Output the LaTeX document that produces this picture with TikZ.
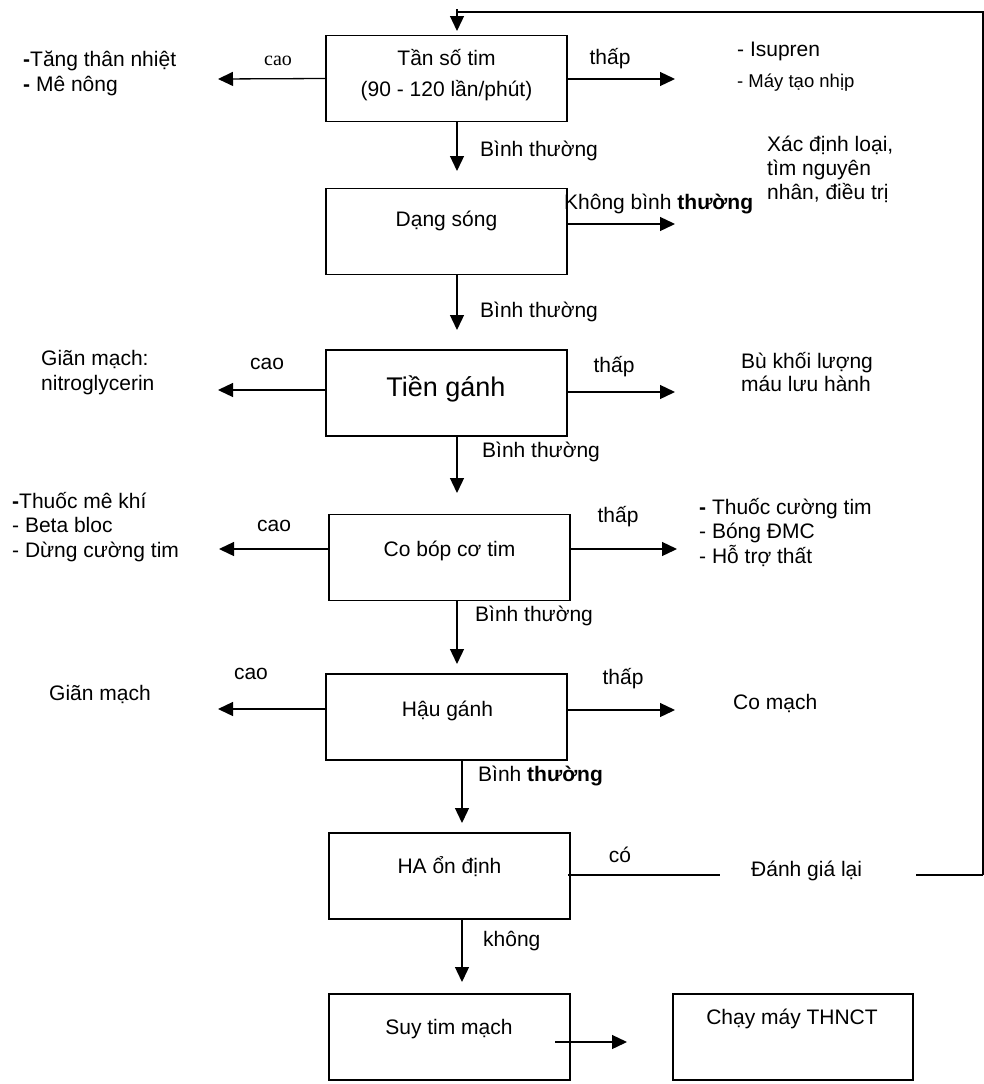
\documentclass[tikz,border=0pt]{standalone}
\usepackage{fontspec}
\setmainfont{Liberation Sans}
\newfontfamily\caoserif{Liberation Serif}
\usetikzlibrary{arrows.meta}
\begin{document}
\begin{tikzpicture}[x=1pt,y=-1pt,
  box/.style={draw,line width=1.8pt,minimum width=241pt,minimum height=86pt,inner sep=0pt},
  txt/.style={font=\fontsize{21}{25}\selectfont,inner sep=0pt,align=left},
  ctxt/.style={font=\fontsize{21}{31}\selectfont,inner sep=0pt,align=center,anchor=base},
  arr/.style={line width=1.3pt,-{Triangle[length=15pt,width=14pt]}},
  ln/.style={line width=1.3pt}]
\useasboundingbox (0,0) rectangle (984,1084);

% boxes
\node[box] (b1) at (446.5,78.5) {};
\node[box] (b2) at (446.5,231.5) {};
\node[box] (b3) at (446.5,393) {};
\node[box] (b4) at (449.5,557.5) {};
\node[box] (b5) at (446.5,717) {};
\node[box] (b6) at (449.5,876) {};
\node[box] (b7) at (449.5,1037) {};
\node[box,minimum width=240pt] (b8) at (793,1037) {};

% box texts (anchor base = baseline of the last line)
\node[ctxt] (t1) at (446.5,96) {Tần số tim\\(90 - 120 lần/phút)};
\node[ctxt] (t2) at (446.5,226) {Dạng sóng};
\node[ctxt,font=\fontsize{27}{31}\selectfont] (t3) at (446,396) {Tiền gánh};
\node[ctxt] (t4) at (449.5,556) {Co bóp cơ tim};
\node[ctxt] (t5) at (447.5,716) {Hậu gánh};
\node[ctxt] (t6) at (449.5,873) {HA ổn định};
\node[ctxt] (t7) at (449,1034) {Suy tim mạch};
\node[ctxt] (t8) at (792,1024) {Chạy máy THNCT};

% free ends
\coordinate (fbtop) at (457,9);
\coordinate (fbtip) at (457,31);
\coordinate (fbr) at (983,12);
\coordinate (l1) at (218,79);
\coordinate (r1) at (675,79);
\coordinate (d1) at (457,171);
\coordinate (r2) at (675,224);
\coordinate (d2) at (457,330);
\coordinate (l3) at (218,390);
\coordinate (r3) at (675,392);
\coordinate (d3) at (457,493);
\coordinate (l4) at (219,549);
\coordinate (r4) at (677,549);
\coordinate (d4) at (457,664);
\coordinate (l5) at (218,709);
\coordinate (r5) at (675,710);
\coordinate (d5) at (462,823);
\coordinate (c6a) at (720,875);
\coordinate (c6b) at (916,875);
\coordinate (c6c) at (983,875);
\coordinate (d6) at (462,982);
\coordinate (s7) at (555,1042);
\coordinate (e7) at (627,1042);

% feedback loop
\draw[ln] (c6c) -- (fbr) -- (fbtop |- fbr);
\draw[arr] (fbtop) -- (fbtip);

% connectors
\draw[arr] (b1.west) -- (l1);
\draw[arr] (b1.east |- r1) -- (r1);
\draw[arr] (d1 |- b1.south) -- (d1);
\draw[arr] (b2.east |- r2) -- (r2);
\draw[arr] (d2 |- b2.south) -- (d2);
\draw[arr] (b3.west |- l3) -- (l3);
\draw[arr] (b3.east |- r3) -- (r3);
\draw[arr] (d3 |- b3.south) -- (d3);
\draw[arr] (b4.west |- l4) -- (l4);
\draw[arr] (b4.east |- r4) -- (r4);
\draw[arr] (d4 |- b4.south) -- (d4);
\draw[arr] (b5.west |- l5) -- (l5);
\draw[arr] (b5.east |- r5) -- (r5);
\draw[arr] (d5 |- b5.south) -- (d5);
\draw[ln] ([xshift=-3pt]b6.east |- c6a) -- (c6a);
\draw[ln] (c6b) -- (c6c);
\draw[arr] (d6 |- b6.south) -- (d6);
\draw[arr] (s7) -- (e7);

% labels (anchor base = baseline of the last line)
\node[txt,anchor=base,font=\caoserif\fontsize{20}{24}\selectfont] (cao1) at (278,65) {cao};
\node[txt,anchor=base] (thap1) at (610,64) {thấp};
\node[txt,anchor=base west] (left1) at (23,91) {\textbf{-}Tăng thân nhiệt\\\textbf{-} Mê nông};
\node[txt,anchor=base west] (right1a) at (737,56) {- Isupren};
\node[txt,anchor=base west,font=\fontsize{18.5}{22}\selectfont] (right1b) at (737,87) {- Máy tạo nhịp};
\node[txt,anchor=base west] (bt1) at (480,156) {Bình thường};

\node[txt,anchor=base west] (kbt) at (564,209) {Không bình \textbf{thường}};
\node[txt,anchor=base west,font=\fontsize{21}{24}\selectfont] (xd) at (767,199) {Xác định loại,\\tìm nguyên\\nhân, điều trị};
\node[txt,anchor=base west] (bt2) at (480,317) {Bình thường};

\node[txt,anchor=base west] (left3) at (41,390) {Giãn mạch:\\nitroglycerin};
\node[txt,anchor=base] (cao3) at (267,369) {cao};
\node[txt,anchor=base] (thap3) at (614,372) {thấp};
\node[txt,anchor=base west,font=\fontsize{21}{23}\selectfont] (right3) at (741,391) {Bù khối lượng\\máu lưu hành};
\node[txt,anchor=base west] (bt3) at (482,457) {Bình thường};

\node[txt,anchor=base west,font=\fontsize{21}{24.5}\selectfont] (left4) at (12,557) {\textbf{-}Thuốc mê khí\\- Beta bloc\\- Dừng cường tim};
\node[txt,anchor=base] (cao4) at (274,531) {cao};
\node[txt,anchor=base] (thap4) at (618,522) {thấp};
\node[txt,anchor=base west,font=\fontsize{21}{24.5}\selectfont] (right4) at (699,563) {\textbf{-} Thuốc cường tim\\- Bóng ĐMC\\- Hỗ trợ thất};
\node[txt,anchor=base west] (bt4) at (475,621) {Bình thường};

\node[txt,anchor=base] (cao5) at (251,679) {cao};
\node[txt,anchor=base west] (left5) at (49,700) {Giãn mạch};
\node[txt,anchor=base] (thap5) at (623,684) {thấp};
\node[txt,anchor=base west] (right5) at (733,709) {Co mạch};
\node[txt,anchor=base west] (bt5) at (478,781) {Bình \textbf{thường}};

\node[txt,anchor=base] (co6) at (620,862) {có};
\node[txt,anchor=base west] (dgl) at (751,876) {Đánh giá lại};
\node[txt,anchor=base west] (khong) at (483,946) {không};
\end{tikzpicture}
\end{document}
